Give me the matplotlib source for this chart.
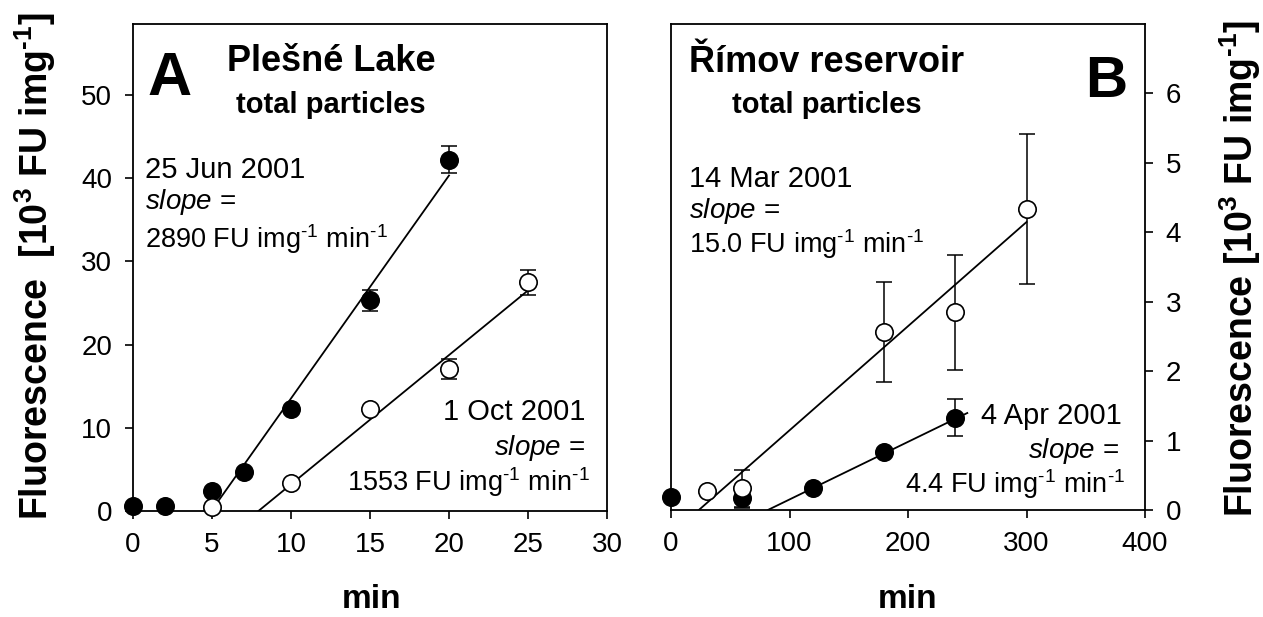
import matplotlib
matplotlib.use("Agg")
import matplotlib.pyplot as plt
import numpy as np

plt.rcParams['font.family'] = ['Liberation Sans', 'DejaVu Sans']
plt.rcParams['mathtext.fontset'] = 'custom'
plt.rcParams['mathtext.rm'] = 'Liberation Sans'
plt.rcParams['mathtext.it'] = 'Liberation Sans:italic'
plt.rcParams['mathtext.bf'] = 'Liberation Sans:bold'
plt.rcParams['mathtext.default'] = 'regular'

# Plesne Lake: time (min) and fluorescence (10^3 FU img^-1)
jun_min = [0, 2, 5, 7, 10, 15, 20]
jun_fl = [0.6, 0.6, 2.4, 4.7, 12.3, 25.3, 42.2]
jun_err = [0, 0, 0, 0, 0, 1.3, 1.6]
oct_min = [5, 10, 15, 20, 25]
oct_fl = [0.5, 3.4, 12.2, 17.0, 27.5]
oct_err = [0, 0, 0, 1.2, 1.5]

# Rimov reservoir: time (min) and fluorescence (10^3 FU img^-1)
mar_min = [30, 60, 180, 240, 300]
mar_fl = [0.28, 0.31, 2.56, 2.85, 4.33]
mar_err = [0, 0.26, 0.72, 0.83, 1.08]
apr_min = [0, 60, 120, 180, 240]
apr_fl = [0.19, 0.18, 0.31, 0.83, 1.33]
apr_err = [0, 0.15, 0, 0, 0.27]

# regression lines: slope, intercept, x start, x end
jun_fit = (2.678, -13.26, 4.95, 20)
oct_fit = (1.553, -12.33, 7.94, 25)
mar_fit = (0.0150, -0.352, 23.5, 300)
apr_fit = (0.0083, -0.678, 81.7, 250)

MS = 12.5
LW = 1.3
HY = '\u2010'  # short hyphen for the superscript exponents
UNIT = r'FU img$^{%s1}$ min$^{%s1}$' % (HY, HY)
YLAB = r'Fluorescence%s[10$^{3}$ FU img$^{%s1}$]'


def draw_series(ax, x, y, err, filled, z):
    x = np.asarray(x)
    y = np.asarray(y)
    err = np.asarray(err)
    m = err > 0
    ax.errorbar(x[m], y[m], yerr=err[m], fmt='none', ecolor='black',
                elinewidth=1.1, capsize=6, capthick=1.1, zorder=z)
    ax.plot(x, y, 'o', ms=MS, mec='black', mew=1.2,
            mfc='black' if filled else 'white', zorder=z + 0.5, clip_on=False)


def draw_fit(ax, fit):
    k, b, x0, x1 = fit
    xs = np.array([x0, x1])
    ax.plot(xs, k * xs + b, color='black', lw=LW, zorder=2)


def style_axes(ax):
    for s in ax.spines.values():
        s.set_linewidth(1.3)
    ax.tick_params(direction='out', length=6, width=1.2, labelsize=20, pad=9)


fig = plt.figure(figsize=(12.63, 6.17), dpi=100)
axA = fig.add_axes([0.1053, 0.1718, 0.3753, 0.7893])
axB = fig.add_axes([0.5313, 0.1734, 0.3753, 0.7877])

# panel A
draw_fit(axA, jun_fit)
draw_fit(axA, oct_fit)
draw_series(axA, jun_min, jun_fl, jun_err, True, 3)
draw_series(axA, oct_min, oct_fl, oct_err, False, 5)
axA.set_xlim(0, 30)
axA.set_ylim(0, 58.5)
axA.set_xticks(np.arange(0, 31, 5))
axA.set_yticks(np.arange(0, 51, 10))
style_axes(axA)

axA.text(0.03, 0.855, 'A', transform=axA.transAxes, fontsize=44, fontweight='bold')
axA.text(0.418, 0.904, 'Plešné Lake', transform=axA.transAxes, fontsize=26,
         fontweight='bold', ha='center')
axA.text(0.418, 0.817, 'total particles', transform=axA.transAxes, fontsize=21,
         fontweight='bold', ha='center')
axA.text(0.025, 0.684, '25 Jun 2001', transform=axA.transAxes, fontsize=21)
axA.text(0.025, 0.620, r'$\mathit{slope}$ =', transform=axA.transAxes, fontsize=20)
axA.text(0.025, 0.540, '2890 ' + UNIT, transform=axA.transAxes, fontsize=19.5)
axA.text(0.954, 0.187, '1 Oct 2001', transform=axA.transAxes, fontsize=21, ha='right')
axA.text(0.954, 0.115, r'$\mathit{slope}$ =', transform=axA.transAxes, fontsize=20, ha='right')
axA.text(0.964, 0.041, '1553 ' + UNIT, transform=axA.transAxes, fontsize=19.5, ha='right')

# panel B
draw_fit(axB, mar_fit)
draw_fit(axB, apr_fit)
draw_series(axB, apr_min, apr_fl, apr_err, True, 3)
draw_series(axB, mar_min, mar_fl, mar_err, False, 5)
axB.set_xlim(0, 400)
axB.set_ylim(0, 7)
axB.set_xticks(np.arange(0, 401, 100))
axB.set_yticks(np.arange(0, 7, 1))
axB.yaxis.tick_right()
style_axes(axB)

axB.text(0.962, 0.85, 'B', transform=axB.transAxes, fontsize=42, fontweight='bold', ha='right')
axB.text(0.328, 0.902, 'Římov reservoir', transform=axB.transAxes, fontsize=26,
         fontweight='bold', ha='center')
axB.text(0.328, 0.817, 'total particles', transform=axB.transAxes, fontsize=21,
         fontweight='bold', ha='center')
axB.text(0.038, 0.665, '14 Mar 2001', transform=axB.transAxes, fontsize=21)
axB.text(0.038, 0.600, r'$\mathit{slope}$ =', transform=axB.transAxes, fontsize=20)
axB.text(0.038, 0.528, '15.0 ' + UNIT, transform=axB.transAxes, fontsize=19.5)
axB.text(0.951, 0.177, '4 Apr 2001', transform=axB.transAxes, fontsize=21, ha='right')
axB.text(0.945, 0.107, r'$\mathit{slope}$ =', transform=axB.transAxes, fontsize=20, ha='right')
axB.text(0.958, 0.035, '4.4 ' + UNIT, transform=axB.transAxes, fontsize=19.5, ha='right')

# axis titles
for x in (372, 908):
    fig.text(x / 1263, 1 - 615 / 617, 'min', ha='center', va='bottom',
             fontsize=24, fontweight='bold')
fig.text(35 / 1263, 1 - 266 / 617, YLAB % ('  ', HY), rotation=90, ha='center',
         va='center', fontsize=27, fontweight='bold')
fig.text(1240 / 1263, 1 - 268 / 617, YLAB % (' ', HY), rotation=90, ha='center',
         va='center', fontsize=27, fontweight='bold')

fig.savefig('out.png', dpi=100)
